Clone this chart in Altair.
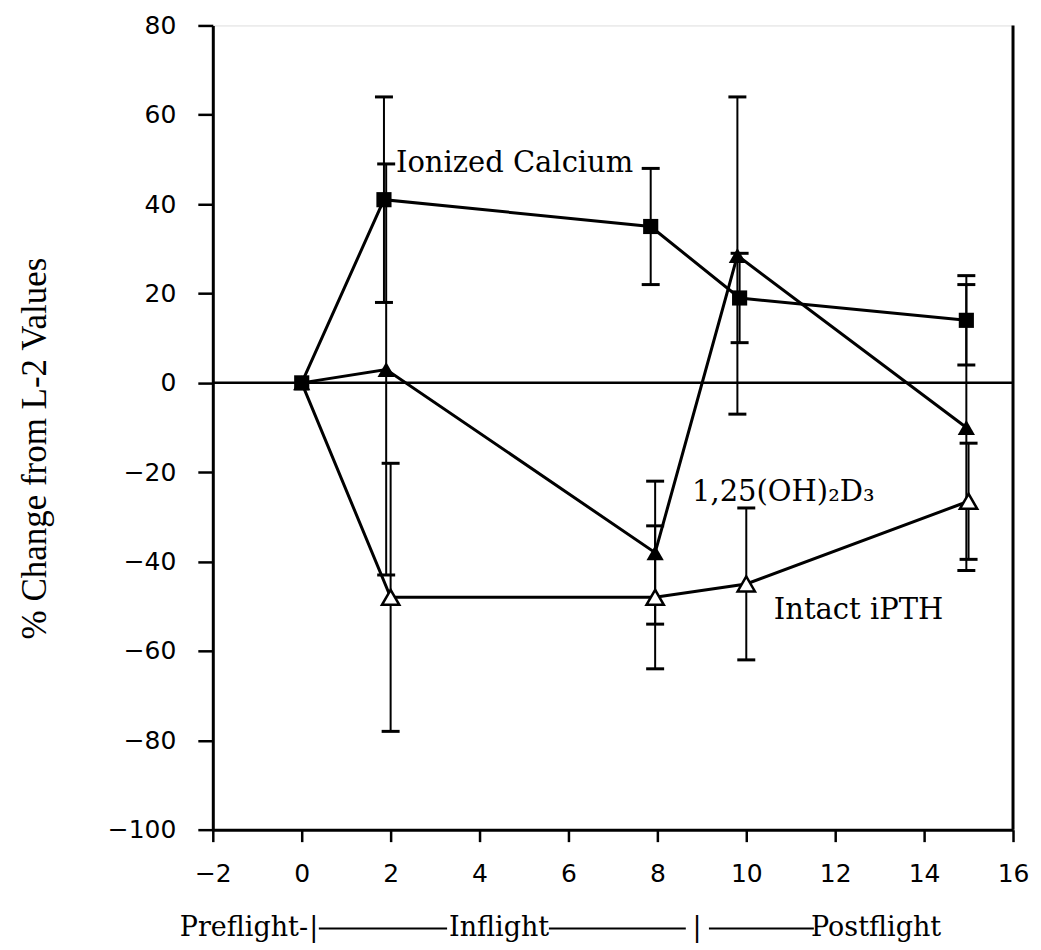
import altair as alt
import pandas as pd

# Ionized Calcium (filled squares)
x_ca = [0, 1.85, 7.85, 9.85, 14.95]
y_ca = [0, 41, 35, 19, 14]
e_ca = [0, 23, 13, 10, 10]
# 1,25(OH)2D3 (filled triangles)
x_d3 = [0, 1.9, 7.95, 9.8, 14.95]
y_d3 = [0, 3, -38, 28.5, -10]
e_d3 = [0, 46, 16, 35.5, 32]
# Intact iPTH (open triangles)
x_pth = [0, 2.0, 7.95, 10.0, 15.0]
y_pth = [0, -48, -48, -45, -26.5]
e_pth = [0, 30, 16, 17, 13]

x_ticks = [-2, 0, 2, 4, 6, 8, 10, 12, 14, 16]
y_ticks = [-100, -80, -60, -40, -20, 0, 20, 40, 60, 80]

ann_text = ["Ionized Calcium", "1,25(OH)\u2082D\u2083", "Intact iPTH"]
ann_x = [2.12, 8.78, 10.62]
ann_y = [49.1, -24.4, -50.8]

phase_text = ["Preflight-", "|", "Inflight", "|", "Postflight"]
phase_x = [-1.30, 0.27, 4.44, 8.89, 12.92]
phase_line_x = [0.385, 5.56, 9.16]
phase_line_x2 = [3.27, 8.64, 11.52]

rows = []
for name, xs, ys, es in [("Ca", x_ca, y_ca, e_ca), ("D3", x_d3, y_d3, e_d3), ("PTH", x_pth, y_pth, e_pth)]:
    for i, (xv, yv, ev) in enumerate(zip(xs, ys, es)):
        rows.append({"series": name, "order": i, "x": xv, "y": yv, "lo": yv - ev, "hi": yv + ev, "err": ev})
df = pd.DataFrame(rows)
err_df = df[df["err"] > 0]
caps = pd.concat([
    err_df[["series", "x", "lo"]].rename(columns={"lo": "cap"}),
    err_df[["series", "x", "hi"]].rename(columns={"hi": "cap"}),
])

xscale = alt.Scale(domain=[-2, 16], nice=False, zero=False)
yscale = alt.Scale(domain=[-100, 80], nice=False, zero=False)

x_axis = alt.Axis(values=x_ticks, title=None, grid=False, tickSize=12, tickWidth=2.5,
                  tickColor="black", domainColor="black", domainWidth=3,
                  labelFont="DejaVu Sans", labelFontSize=25, labelColor="black",
                  labelPadding=20, labelFlush=False, labelOverlap=False)
y_axis = alt.Axis(values=y_ticks, title="% Change from L-2 Values", grid=False, tickSize=15,
                  tickWidth=2.5, tickColor="black", domainColor="black", domainWidth=3,
                  labelFont="DejaVu Sans", labelFontSize=25, labelColor="black",
                  labelPadding=22, labelFlush=False, labelOverlap=False,
                  titleFont="Liberation Serif", titleFontSize=35, titleFontWeight="normal",
                  titleColor="black", titleX=-178, titleY=423, titleAngle=270,
                  titleBaseline="middle")

base = alt.Chart(df)
lines = base.mark_line(color="black", strokeWidth=3).encode(
    x=alt.X("x:Q", scale=xscale, axis=x_axis),
    y=alt.Y("y:Q", scale=yscale, axis=y_axis),
    detail="series:N",
    order="order:Q",
)

zero = alt.Chart(pd.DataFrame({"y": [0]})).mark_rule(color="black", strokeWidth=2.5).encode(
    y=alt.Y("y:Q", scale=yscale))
right = alt.Chart(pd.DataFrame({"x": [16]})).mark_rule(color="black", strokeWidth=3).encode(
    x=alt.X("x:Q", scale=xscale))

ebars = alt.Chart(err_df).mark_rule(color="black", strokeWidth=2).encode(
    x=alt.X("x:Q", scale=xscale), y=alt.Y("lo:Q", scale=yscale), y2="hi:Q")
ecaps = alt.Chart(caps).mark_tick(color="black", orient="horizontal", size=18, thickness=3,
                                  opacity=1).encode(
    x=alt.X("x:Q", scale=xscale), y=alt.Y("cap:Q", scale=yscale))

ca_pts = alt.Chart(df[df.series == "Ca"]).mark_point(
    shape="square", filled=True, color="black", size=230, opacity=1).encode(
    x=alt.X("x:Q", scale=xscale), y=alt.Y("y:Q", scale=yscale))
d3_pts = alt.Chart(df[df.series == "D3"]).mark_point(
    shape="triangle-up", filled=True, color="black", size=300, opacity=1).encode(
    x=alt.X("x:Q", scale=xscale), y=alt.Y("y:Q", scale=yscale))
pth_pts = alt.Chart(df[(df.series == "PTH") & (df.order > 0)]).mark_point(
    shape="triangle-up", filled=True, fill="white", stroke="black", strokeWidth=2.5,
    size=300, opacity=1).encode(
    x=alt.X("x:Q", scale=xscale), y=alt.Y("y:Q", scale=yscale))

ann = alt.Chart(pd.DataFrame({"t": ann_text, "x": ann_x, "y": ann_y})).mark_text(
    font="DejaVu Serif", fontSize=29, align="left", baseline="middle", color="black").encode(
    x=alt.X("x:Q", scale=xscale), y=alt.Y("y:Q", scale=yscale), text="t:N")

phase = alt.Chart(pd.DataFrame({"t": phase_text, "x": phase_x})).mark_text(
    font="DejaVu Serif", fontSize=27, align="center", baseline="middle", color="black").encode(
    x=alt.X("x:Q", scale=xscale), y=alt.value(903), text="t:N")
phase_lines = alt.Chart(pd.DataFrame({"x": phase_line_x, "x2": phase_line_x2})).mark_rule(
    color="black", strokeWidth=2).encode(
    x=alt.X("x:Q", scale=xscale), x2="x2:Q", y=alt.value(904))

chart = alt.layer(lines, zero, right, ebars, ecaps, ca_pts, d3_pts, pth_pts, ann, phase, phase_lines).properties(
    width=801, height=805,
    padding={"left": 205, "top": 17, "right": 20, "bottom": 117},
    autosize="none",
).configure_view(strokeWidth=0).configure(background="white")

chart.save("out.html", embed_options={"renderer": "svg", "actions": False})
